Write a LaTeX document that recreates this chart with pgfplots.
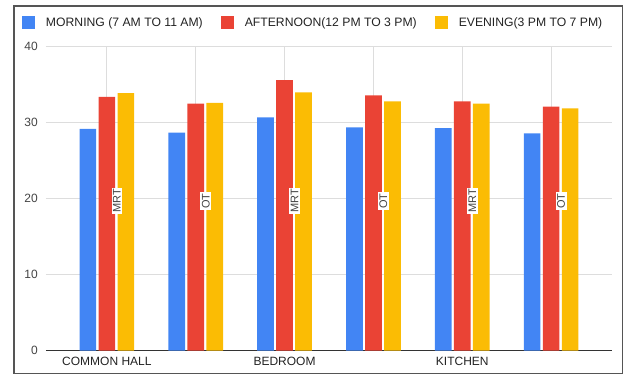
\documentclass[border=0pt]{standalone}
\usepackage{pgfplots}
\pgfplotsset{compat=1.18}
\usepackage{fontspec}
\setmainfont{Liberation Sans}

\definecolor{gblue}{HTML}{4285F4}
\definecolor{gred}{HTML}{EA4335}
\definecolor{gyellow}{HTML}{FBBC04}
\definecolor{gridgray}{HTML}{DDDDDD}
\definecolor{axisdark}{HTML}{333333}
\definecolor{ticktext}{HTML}{444444}
\definecolor{legtext}{HTML}{222222}
\definecolor{framegray}{HTML}{555555}

\begin{document}
\begin{tikzpicture}[x=1pt,y=1pt]
\useasboundingbox (0,0) rectangle (626,376);
\draw[framegray, line width=1.1pt] (14,2.5) rectangle (622.5,370);

\begin{axis}[
  at={(46pt,25.3pt)}, anchor=south west,
  scale only axis, width=566pt, height=304pt,
  ybar, bar width=16.7pt,
  xmin=-0.685, xmax=5.685,
  ymin=0, ymax=40,
  xtick={0,1,2,3,4,5},
  xticklabels={COMMON HALL,,BEDROOM,,KITCHEN,},
  ytick={10,20,30,40},
  extra y ticks={0},
  extra y tick style={grid style={axisdark, line width=1.3pt}},
  grid=major,
  grid style={gridgray, line width=0.8pt},
  axis line style={draw=none},
  major tick length=0pt,
  tick style={draw=none},
  /pgf/number format/assume math mode=true,
  yticklabel style={font=\fontsize{12}{14}\selectfont, text=ticktext, anchor=east, inner sep=0pt, xshift=-8pt},
  xticklabel style={font=\fontsize{12}{14}\selectfont, text=legtext, anchor=north, inner sep=0pt, yshift=-6pt},
  legend columns=3,
  legend style={at={(axis description cs:-0.0424,1)}, anchor=west, yshift=24.2pt,
    draw=none, fill=none, inner sep=0pt, outer sep=0pt,
    font=\fontsize{12.2}{14}\selectfont, text=legtext,
    nodes={inner sep=0pt, anchor=west},
    /tikz/every odd column/.style={column sep=11pt},
    /tikz/every even column/.style={column sep=18pt}},
  legend image code/.code={\fill[#1] (0pt,-6.5pt) rectangle (13pt,6.5pt);},
]
\addplot[fill=gblue, draw=none, bar shift=-19pt] coordinates
  {(0,29.2) (1,28.7) (2,30.7) (3,29.4) (4,29.3) (5,28.6)};
\addplot[fill=gred, draw=none, bar shift=0pt] coordinates
  {(0,33.4) (1,32.5) (2,35.6) (3,33.6) (4,32.8) (5,32.1)};
\addplot[fill=gyellow, draw=none, bar shift=19pt] coordinates
  {(0,33.9) (1,32.6) (2,34.0) (3,32.8) (4,32.5) (5,31.9)};
\legend{MORNING (7 AM TO 11 AM),AFTERNOON(12 PM TO 3 PM),EVENING(3 PM TO 7 PM)}

% measurement type inside each group
\foreach \g/\t in {0/MRT,1/OT,2/MRT,3/OT,4/MRT,5/OT}{
  \edef\tmp{\noexpand\node[xshift=10pt, rotate=90, fill=white, text=ticktext, inner sep=1.5pt,
    font=\noexpand\fontsize{11}{13}\noexpand\selectfont]
    at (axis cs:\g,19.7) {\t};}
  \tmp
}
\end{axis}
\end{tikzpicture}
\end{document}
